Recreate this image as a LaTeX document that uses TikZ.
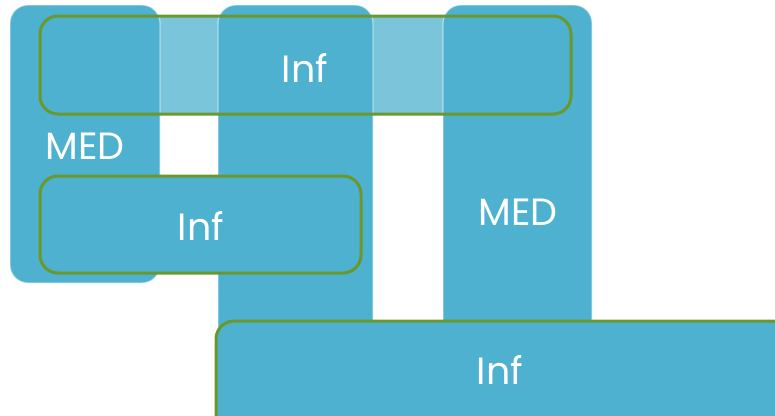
\documentclass[tikz,border=0pt]{standalone}
\usepackage{fontspec}
\setmainfont{Poppins}
\definecolor{tileblue}{HTML}{4DB1CF}
\definecolor{rimgreen}{HTML}{6B982C}
\begin{document}
\begin{tikzpicture}[x=1pt,y=-1pt,
  column/.style={fill=tileblue, draw=white, draw opacity=0.45, line width=1.4pt, rounded corners=18pt},
  band/.style={fill=tileblue, fill opacity=0.74, draw=none, rounded corners=18pt},
  bar/.style={draw=rimgreen, line width=3pt, rounded corners=18pt},
  lbl/.style={text=white, font=\fontsize{38}{40}\selectfont, inner sep=0pt, anchor=base}]
  \useasboundingbox (0,0) rectangle (775,415);

  % translucent strip behind the three columns
  \fill[band] (40,16) rectangle (571,114);

  % three MED columns
  \draw[column] (10,5) rectangle (160,283);
  \draw[column] (218,5) rectangle (373,360);
  \draw[column] (443,5) rectangle (592,360);

  % outline of the top Inf strip
  \draw[bar] (40,16) rectangle (571,114);

  % middle and bottom Inf bars
  \draw[bar, fill=tileblue] (40,176) rectangle (361,273);
  \draw[bar, fill=tileblue] (216,321) rectangle (790,440);

  % labels
  \node[lbl] (inftop) at (305,82) {Inf};
  \node[lbl] (medleft) at (85,159) {MED};
  \node[lbl] (infmid) at (201,240) {Inf};
  \node[lbl] (medright) at (518,225) {MED};
  \node[lbl] (infbot) at (500,384) {Inf};
\end{tikzpicture}
\end{document}
